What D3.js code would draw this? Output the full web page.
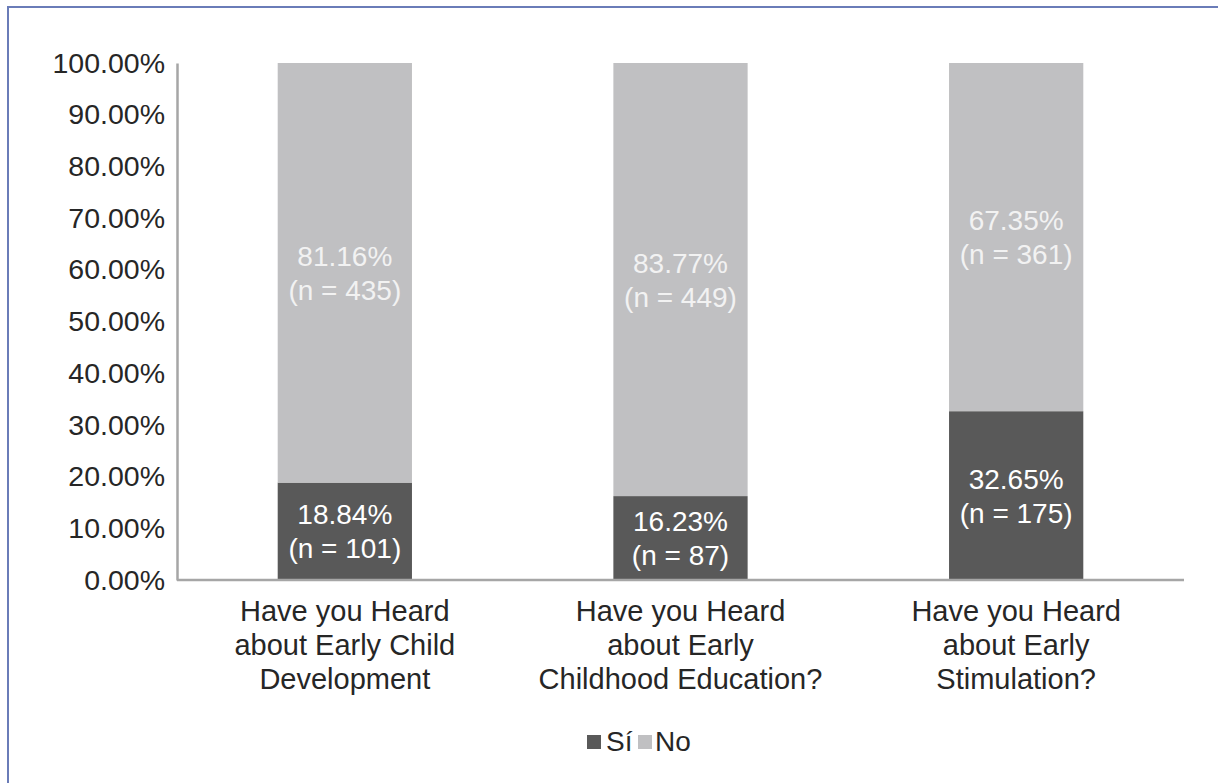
<!DOCTYPE html>
<html>
<head>
<meta charset="utf-8">
<script src="https://cdn.jsdelivr.net/npm/d3@7"></script>
<style>
  html, body { margin: 0; padding: 0; background: #fff; }
  svg { display: block; font-family: "Liberation Sans", Arial, sans-serif; }
</style>
</head>
<body>
<svg id="chart" width="1218" height="783"></svg>
<script>
// Survey answers: share of respondents who had heard of each concept
const categories = [
  ["Have you Heard", "about Early Child", "Development"],
  ["Have you Heard", "about Early", "Childhood Education?"],
  ["Have you Heard", "about Early", "Stimulation?"]
];
const siPct = [18.84, 16.23, 32.65];
const siN = [101, 87, 175];
const noPct = [81.16, 83.77, 67.35];
const noN = [435, 449, 361];
const yTicks = [0, 10, 20, 30, 40, 50, 60, 70, 80, 90, 100];
const seriesNames = ["Sí", "No"];

const colors = { si: "#595959", no: "#c0c0c2" };
const textColor = "#262626";

const svg = d3.select("#chart");

// outer frame (top and left edges visible)
svg.append("path")
  .attr("d", "M8,783 V7 H1218")
  .attr("fill", "none")
  .attr("stroke", "#6a7cb8")
  .attr("stroke-width", 2);

const plotLeft = 177, plotRight = 1184, plotTop = 63, plotBottom = 580;

const x = d3.scaleBand()
  .domain(d3.range(categories.length))
  .range([plotLeft, plotRight])
  .paddingInner(0.6)
  .paddingOuter(0.3);

const y = d3.scaleLinear().domain([0, 100]).range([plotBottom, plotTop]);

const rows = categories.map((c, i) => ({
  i, si: siPct[i], siN: siN[i], no: noPct[i], noN: noN[i]
}));

// stacked bars
const g = svg.append("g");
rows.forEach(r => {
  g.append("rect")
    .attr("x", x(r.i)).attr("width", x.bandwidth())
    .attr("y", y(r.si)).attr("height", y(0) - y(r.si))
    .attr("fill", colors.si);
  g.append("rect")
    .attr("x", x(r.i)).attr("width", x.bandwidth())
    .attr("y", y(r.si + r.no)).attr("height", y(r.si) - y(r.si + r.no))
    .attr("fill", colors.no);
});

// segment labels
function segLabel(cx, y0, y1, pct, n, fill) {
  const cy = (y0 + y1) / 2;
  const t = g.append("text")
    .attr("text-anchor", "middle")
    .attr("font-size", 28)
    .attr("fill", fill);
  t.append("tspan").attr("x", cx).attr("y", cy - 17 + 10).text(pct.toFixed(2) + "%");
  t.append("tspan").attr("x", cx).attr("y", cy + 17 + 10).text("(n = " + n + ")");
}
rows.forEach(r => {
  const cx = x(r.i) + x.bandwidth() / 2;
  segLabel(cx, y(r.si), y(0), r.si, r.siN, "#ffffff");
  segLabel(cx, y(r.si + r.no), y(r.si), r.no, r.noN, "#f2f2f2");
});

// y axis
const yAxis = d3.axisLeft(y)
  .tickValues(yTicks)
  .tickSize(0)
  .tickPadding(12)
  .tickFormat(d => d.toFixed(2) + "%");
const yg = svg.append("g").attr("transform", `translate(${plotLeft},0)`).call(yAxis);
yg.select(".domain").attr("stroke", "#a6a6a6").attr("stroke-width", 2.5);
yg.selectAll("text")
  .attr("font-size", 28.5)
  .attr("font-family", "Liberation Sans, Arial, sans-serif")
  .attr("fill", textColor);

// baseline
svg.append("line")
  .attr("x1", plotLeft).attr("x2", plotRight)
  .attr("y1", y(0)).attr("y2", y(0))
  .attr("stroke", "#a6a6a6").attr("stroke-width", 2.5);

// category labels
rows.forEach(r => {
  const cx = x(r.i) + x.bandwidth() / 2;
  const t = svg.append("text")
    .attr("text-anchor", "middle")
    .attr("font-size", 29)
    .attr("fill", textColor);
  categories[r.i].forEach((line, k) => {
    t.append("tspan").attr("x", cx).attr("y", 621 + k * 34).text(line);
  });
});

// legend
const lg = svg.append("g").attr("transform", "translate(587,735)");
lg.append("rect").attr("x", 0).attr("y", 0).attr("width", 14).attr("height", 14).attr("fill", colors.si);
lg.append("text").attr("x", 19).attr("y", 16).attr("font-size", 28).attr("fill", textColor).text(seriesNames[0]);
lg.append("rect").attr("x", 51).attr("y", 0).attr("width", 14).attr("height", 14).attr("fill", colors.no);
lg.append("text").attr("x", 68).attr("y", 16).attr("font-size", 28).attr("fill", textColor).text(seriesNames[1]);
</script>
</body>
</html>
